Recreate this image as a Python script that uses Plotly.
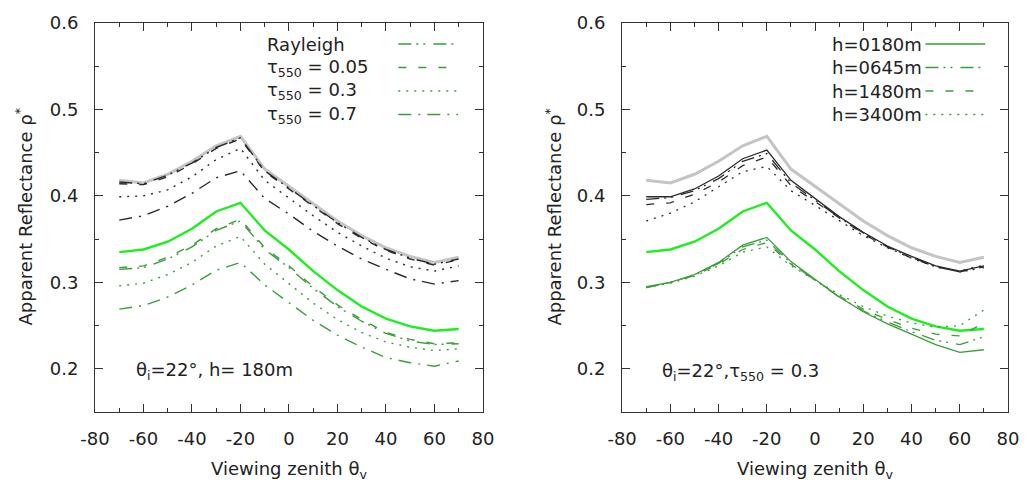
import plotly.graph_objects as go
from plotly.subplots import make_subplots

# ---------------- data ----------------
theta_v = [-70, -60, -50, -40, -30, -20, -10, 0, 10, 20, 30, 40, 50, 60, 70]

# reference curves (same in both panels)
ref_gray = [0.418, 0.415, 0.425, 0.440, 0.458, 0.469, 0.431, 0.411, 0.390, 0.371, 0.354, 0.340, 0.330, 0.323, 0.329]
ref_lime = [0.335, 0.338, 0.347, 0.362, 0.382, 0.392, 0.360, 0.338, 0.313, 0.291, 0.272, 0.258, 0.249, 0.244, 0.246]

# left panel: h = 180 m, different aerosol loads
left_black_rayleigh = [0.416, 0.414, 0.424, 0.438, 0.456, 0.467, 0.429, 0.409, 0.388, 0.369, 0.352, 0.338, 0.328, 0.321, 0.327]
left_black_t005 = [0.414, 0.413, 0.422, 0.437, 0.455, 0.466, 0.428, 0.408, 0.387, 0.368, 0.351, 0.337, 0.327, 0.320, 0.326]
left_black_t03 = [0.399, 0.400, 0.407, 0.422, 0.442, 0.455, 0.418, 0.397, 0.377, 0.358, 0.342, 0.328, 0.318, 0.313, 0.319]
left_black_t07 = [0.372, 0.377, 0.388, 0.403, 0.421, 0.429, 0.397, 0.379, 0.359, 0.342, 0.327, 0.315, 0.304, 0.298, 0.302]
left_green_rayleigh = [0.315, 0.317, 0.327, 0.341, 0.360, 0.371, 0.338, 0.317, 0.293, 0.272, 0.255, 0.241, 0.232, 0.228, 0.229]
left_green_t005 = [0.317, 0.319, 0.329, 0.343, 0.362, 0.373, 0.340, 0.319, 0.295, 0.274, 0.257, 0.242, 0.234, 0.229, 0.230]
left_green_t03 = [0.296, 0.299, 0.309, 0.323, 0.342, 0.353, 0.321, 0.298, 0.276, 0.257, 0.242, 0.231, 0.225, 0.221, 0.223]
left_green_t07 = [0.269, 0.273, 0.283, 0.297, 0.314, 0.323, 0.297, 0.277, 0.256, 0.239, 0.225, 0.213, 0.207, 0.203, 0.209]

# right panel: tau550 = 0.3, different altitudes
right_black_h0180 = [0.399, 0.399, 0.408, 0.423, 0.443, 0.453, 0.418, 0.397, 0.376, 0.358, 0.342, 0.330, 0.319, 0.313, 0.319]
right_black_h0645 = [0.396, 0.398, 0.406, 0.420, 0.440, 0.449, 0.415, 0.395, 0.375, 0.357, 0.341, 0.329, 0.318, 0.312, 0.317]
right_black_h1480 = [0.390, 0.392, 0.402, 0.416, 0.435, 0.445, 0.412, 0.393, 0.374, 0.356, 0.341, 0.328, 0.318, 0.312, 0.318]
right_black_h3400 = [0.371, 0.380, 0.393, 0.410, 0.428, 0.434, 0.406, 0.389, 0.371, 0.354, 0.340, 0.328, 0.318, 0.313, 0.320]
right_green_h0180 = [0.295, 0.300, 0.309, 0.323, 0.343, 0.352, 0.324, 0.303, 0.283, 0.266, 0.252, 0.240, 0.228, 0.219, 0.222]
right_green_h0645 = [0.294, 0.300, 0.308, 0.322, 0.341, 0.349, 0.322, 0.302, 0.283, 0.267, 0.254, 0.243, 0.233, 0.228, 0.237]
right_green_h1480 = [0.294, 0.300, 0.308, 0.321, 0.338, 0.346, 0.321, 0.302, 0.284, 0.269, 0.257, 0.247, 0.240, 0.238, 0.253]
right_green_h3400 = [0.294, 0.299, 0.307, 0.319, 0.335, 0.341, 0.319, 0.302, 0.286, 0.272, 0.261, 0.253, 0.248, 0.250, 0.268]

left_labels = ["Rayleigh", "τ<sub>550</sub> = 0.05", "τ<sub>550</sub> = 0.3", "τ<sub>550</sub> = 0.7"]
right_labels = ["h=0180m", "h=0645m", "h=1480m", "h=3400m"]

x_tick_vals = [-80, -60, -40, -20, 0, 20, 40, 60, 80]
x_tick_labels = ["-80", "-60", "-40", "-20", "0", "20", "40", "60", "80"]
y_tick_vals = [0.2, 0.3, 0.4, 0.5, 0.6]
y_tick_labels = ["0.2", "0.3", "0.4", "0.5", "0.6"]

left_note = "θ<sub>i</sub>=22°, h= 180m"
right_note = "θ<sub>i</sub>=22°,τ<sub>550</sub> = 0.3"
y_title = "Apparent Reflectance ρ<sup>*</sup>"
x_title = "Viewing zenith θ<sub>v</sub>"

# ---------------- styles ----------------
FONT = "DejaVu Sans"
GREEN = "#3a9e3a"
LIME = "#1cf01c"
GRAY = "#c4c4c4"
BLACK = "#2a2a2a"
AX = "#333333"

D_DDOT = "13px,5px,2px,5px,2px,8px"
D_DASH = "8px,12px"
D_DOT = "2px,6px"
D_DOTDASH = "13px,7px,2px,7px"

left_dashes = [D_DDOT, D_DASH, D_DOT, D_DOTDASH]
right_dashes = ["solid", D_DDOT, D_DASH, D_DOT]

fig = make_subplots(rows=1, cols=2, horizontal_spacing=0.0)

def add(col, y, color, dash, width):
    fig.add_trace(go.Scatter(x=theta_v, y=y, mode="lines",
                             line=dict(color=color, dash=dash, width=width),
                             showlegend=False, hoverinfo="skip"), row=1, col=col)

# left panel
add(1, ref_gray, GRAY, "solid", 3)
for ys, d in zip([left_black_rayleigh, left_black_t005, left_black_t03, left_black_t07], left_dashes):
    add(1, ys, BLACK, d, 1.4)
add(1, ref_lime, LIME, "solid", 2.4)
for ys, d in zip([left_green_rayleigh, left_green_t005, left_green_t03, left_green_t07], left_dashes):
    add(1, ys, GREEN, d, 1.4)

# right panel
add(2, ref_gray, GRAY, "solid", 3)
for ys, d in zip([right_black_h0180, right_black_h0645, right_black_h1480, right_black_h3400], right_dashes):
    add(2, ys, BLACK, d, 1.3)
add(2, ref_lime, LIME, "solid", 2.4)
for ys, d in zip([right_green_h0180, right_green_h0645, right_green_h1480, right_green_h3400], right_dashes):
    add(2, ys, GREEN, d, 1.3)

W, H = 1031, 481
ML, MR, MT, MB = 95, 18, 22, 69
pw = W - ML - MR
left_dom = [0.0, 390 / pw]
right_dom = [(625 - ML) / pw, 1.0]

xcommon = dict(range=[-80, 80], tickmode="array", tickvals=x_tick_vals, ticktext=x_tick_labels,
               showline=True, linecolor=AX, linewidth=1, mirror="allticks",
               ticks="inside", ticklen=8, tickwidth=1, tickcolor=AX,
               showgrid=False, zeroline=False, ticklabelstandoff=10,
               tickfont=dict(family=FONT, size=18, color="#222"),
               minor=dict(dtick=10, tick0=0, ticks="inside", ticklen=4, tickcolor=AX, showgrid=False))
ycommon = dict(range=[0.15, 0.6], tickmode="array", tickvals=y_tick_vals, ticktext=y_tick_labels,
               showline=True, linecolor=AX, linewidth=1, mirror="allticks",
               ticks="inside", ticklen=8, tickwidth=1, tickcolor=AX,
               showgrid=False, zeroline=False, ticklabelstandoff=12,
               tickfont=dict(family=FONT, size=18, color="#222"),
               minor=dict(dtick=0.05, tick0=0, ticks="inside", ticklen=4, tickcolor=AX, showgrid=False))

fig.update_layout(
    width=W, height=H, margin=dict(l=ML, r=MR, t=MT, b=MB),
    paper_bgcolor="white", plot_bgcolor="white", showlegend=False,
    font=dict(family=FONT, size=18, color="#222"),
    xaxis=dict(domain=left_dom, **xcommon),
    xaxis2=dict(domain=right_dom, **xcommon),
    yaxis=dict(domain=[0, 1], **ycommon),
    yaxis2=dict(domain=[0, 1], **ycommon),
)

annotations = []
shapes = []
tfont = dict(family=FONT, size=18, color="#222")

# axis titles
for xr, yr, dx in [("x domain", "y domain", -71), ("x2 domain", "y2 domain", -69)]:
    annotations.append(dict(xref=xr, yref=yr, x=0, y=0.5, xshift=dx, text=y_title, textangle=-90,
                            showarrow=False, xanchor="center", yanchor="middle", font=tfont))
    annotations.append(dict(xref=xr, yref=yr, x=0.5, y=0, yshift=-58, text=x_title,
                            showarrow=False, xanchor="center", yanchor="middle", font=tfont))

# panel notes
annotations.append(dict(xref="x", yref="y", x=-64, y=0.197, text=left_note, showarrow=False,
                        xanchor="left", yanchor="middle", font=tfont))
annotations.append(dict(xref="x2", yref="y2", x=-64.3, y=0.196, text=right_note, showarrow=False,
                        xanchor="left", yanchor="middle", font=tfont))

# key boxes (gnuplot style: text then line sample)
row_y0, row_dy = 0.946, 0.0605
for i, (lab, d) in enumerate(zip(left_labels, left_dashes)):
    yy = row_y0 - i * row_dy
    annotations.append(dict(xref="x domain", yref="y domain", x=0.4385, y=yy, text=lab, showarrow=False,
                            xanchor="left", yanchor="middle", font=tfont))
    shapes.append(dict(type="line", xref="x domain", yref="y domain", x0=0.782, x1=0.936, y0=yy, y1=yy,
                       line=dict(color=GREEN, dash=d, width=1.5)))
for i, (lab, d) in enumerate(zip(right_labels, right_dashes)):
    yy = row_y0 - i * row_dy
    annotations.append(dict(xref="x2 domain", yref="y2 domain", x=0.783, y=yy, text=lab, showarrow=False,
                            xanchor="right", yanchor="middle", font=tfont))
    shapes.append(dict(type="line", xref="x2 domain", yref="y2 domain", x0=0.786, x1=0.941, y0=yy, y1=yy,
                       line=dict(color=GREEN, dash=d, width=1.5)))

fig.update_layout(annotations=annotations, shapes=shapes)
fig.write_html("out.html", config={"displayModeBar": False},
               post_script="document.body.style.margin='0';document.body.style.overflow='hidden';")
